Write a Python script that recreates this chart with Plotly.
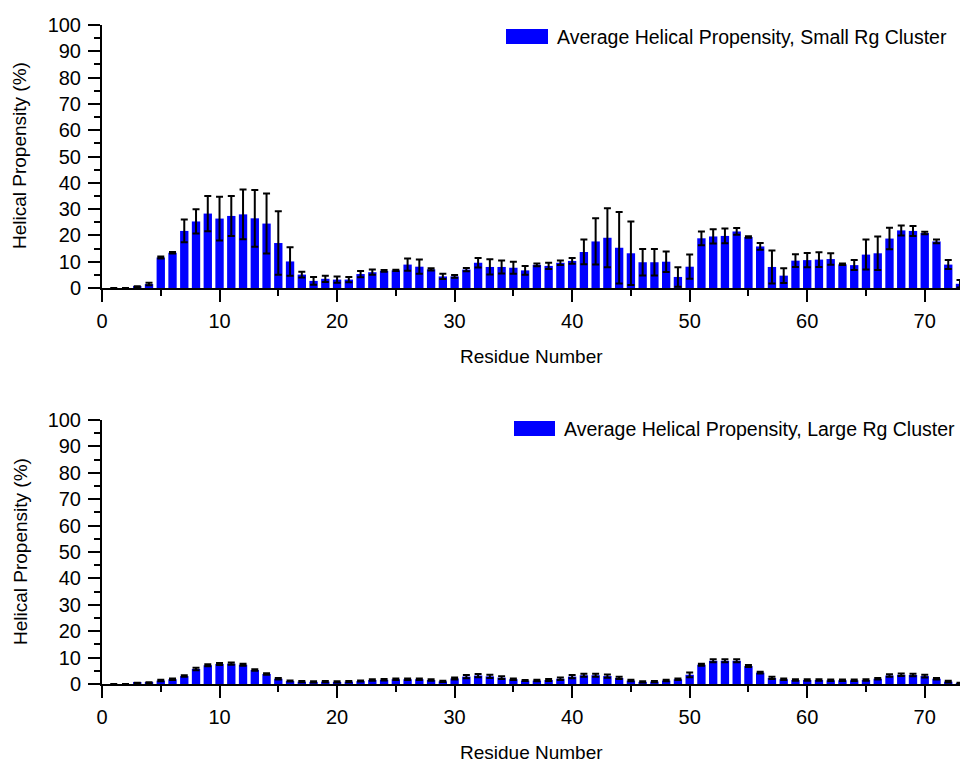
import plotly.graph_objects as go

residues = list(range(1, 74))

small_rg = [0, 0, 0.5, 1.5, 11.6, 13.4, 21.7, 25.3, 28.3, 26.4,
            27.4, 28.0, 26.5, 24.5, 17.1, 10.1, 5.1, 2.7, 3.5, 3.2,
            3.2, 5.3, 6.0, 6.5, 6.7, 8.9, 8.1, 7.1, 4.4, 4.4,
            7.0, 9.6, 8.0, 8.0, 7.7, 6.7, 8.8, 8.4, 9.6, 10.3,
            13.7, 17.7, 19.1, 15.3, 13.2, 9.8, 9.8, 10.0, 4.2, 8.1,
            18.9, 19.6, 19.8, 21.5, 19.4, 15.8, 8.0, 4.7, 10.4, 10.6,
            10.8, 11.0, 9.0, 8.7, 12.7, 13.2, 18.8, 21.9, 21.7, 20.9,
            17.7, 8.9, 1.6]
small_err = [None, None, 0.2, 0.5, 0.4, 0.3, 4.3, 4.6, 6.7, 8.3,
             7.6, 9.5, 10.8, 11.4, 12.1, 5.4, 1.1, 1.5, 1.2, 1.2,
             1.0, 1.2, 1.0, 0.3, 0.2, 2.3, 2.7, 0.4, 1.0, 0.5,
             0.6, 1.8, 2.9, 2.5, 2.3, 1.7, 0.5, 1.2, 0.9, 1.1,
             4.7, 8.8, 11.2, 13.6, 12.1, 5.0, 5.0, 3.9, 3.7, 4.6,
             2.6, 2.7, 2.8, 1.3, 0.3, 1.3, 6.3, 2.8, 2.4, 2.7,
             2.8, 2.2, 0.3, 1.9, 5.7, 6.4, 4.1, 1.9, 1.9, 0.5,
             0.7, 1.7, 1.4]

large_rg = [0, 0, 0.4, 0.5, 1.3, 1.8, 3.0, 5.7, 7.1, 7.6,
            7.7, 7.3, 5.3, 3.8, 2.0, 1.1, 0.9, 0.8, 0.9, 0.8,
            0.9, 1.1, 1.5, 1.6, 1.8, 1.8, 1.8, 1.5, 1.0, 2.1,
            2.8, 3.2, 2.9, 2.4, 1.8, 1.3, 1.3, 1.5, 2.0, 2.8,
            3.3, 3.3, 3.0, 2.3, 1.3, 0.8, 0.9, 1.3, 1.8, 3.5,
            7.3, 8.8, 8.8, 8.8, 6.8, 4.3, 2.3, 1.8, 1.5, 1.5,
            1.5, 1.4, 1.4, 1.4, 1.5, 2.0, 3.2, 3.5, 3.4, 3.0,
            2.0, 0.9, 0.3]
large_err = [None, None, 0.1, 0.2, 0.3, 0.3, 0.3, 0.5, 0.4, 0.4,
             0.4, 0.4, 0.3, 0.3, 0.3, 0.2, 0.2, 0.2, 0.2, 0.2,
             0.2, 0.2, 0.3, 0.3, 0.3, 0.3, 0.3, 0.3, 0.2, 0.4,
             0.6, 0.6, 0.6, 0.5, 0.3, 0.2, 0.3, 0.4, 0.5, 0.6,
             0.6, 0.6, 0.6, 0.4, 0.3, 0.2, 0.2, 0.3, 0.3, 0.9,
             0.4, 0.6, 0.6, 0.6, 0.4, 0.3, 0.4, 0.3, 0.3, 0.3,
             0.3, 0.3, 0.3, 0.3, 0.3, 0.3, 0.5, 0.5, 0.5, 0.5,
             0.3, 0.3, 0.2]

y_ticks = [0, 10, 20, 30, 40, 50, 60, 70, 80, 90, 100]
x_ticks = [0, 10, 20, 30, 40, 50, 60, 70]

name_small = "Average Helical Propensity, Small Rg Cluster"
name_large = "Average Helical Propensity, Large Rg Cluster"
x_title = "Residue Number"
y_title = "Helical Propensity (%)"

BLUE = "#0000ff"
FONT = "Liberation Sans, Arial, sans-serif"

fig = go.Figure()
err_style = dict(type="data", color="black", thickness=2, width=3.5, visible=True)
fig.add_trace(go.Bar(x=residues, y=small_rg, name=name_small,
                     marker=dict(color=BLUE, line=dict(width=0)),
                     error_y=dict(array=small_err, **err_style),
                     xaxis="x", yaxis="y", showlegend=False))
fig.add_trace(go.Bar(x=residues, y=large_rg, name=name_large,
                     marker=dict(color=BLUE, line=dict(width=0)),
                     error_y=dict(array=large_err, **err_style),
                     xaxis="x2", yaxis="y2", showlegend=False))

W, H = 960, 762
x0 = 102 / W
top_dom = [1 - 288 / H, 1 - 25 / H]
bot_dom = [1 - 684 / H, 1 - 420 / H]

def xax(anchor):
    return dict(domain=[x0, 1], range=[0, 73], anchor=anchor, automargin=False,
                tickvals=x_ticks, ticks="outside", ticklen=12, tickwidth=2,
                tickcolor="black", showline=True, linecolor="black", linewidth=2,
                showgrid=False, zeroline=False, ticklabelstandoff=2,
                tickfont=dict(size=20, color="black", family=FONT),
                minor=dict(dtick=5, tick0=0, ticks="outside", ticklen=6,
                           tickwidth=2, tickcolor="black", showgrid=False))

def yax(anchor, domain):
    return dict(domain=domain, range=[0, 100], anchor=anchor, automargin=False,
                tickvals=y_ticks, ticks="outside", ticklen=12, tickwidth=2,
                tickcolor="black", showline=True, linecolor="black", linewidth=2,
                showgrid=False, zeroline=False, ticklabelstandoff=3,
                tickfont=dict(size=20, color="black", family=FONT),
                minor=dict(dtick=5, tick0=0, ticks="outside", ticklen=6,
                           tickwidth=2, tickcolor="black", showgrid=False))

fig.update_layout(
    width=W, height=H,
    margin=dict(l=0, r=0, t=0, b=0, autoexpand=False),
    paper_bgcolor="white", plot_bgcolor="white",
    bargap=0.29,
    font=dict(family=FONT, color="black"),
    xaxis=xax("y"),
    yaxis=yax("x", top_dom),
    xaxis2=xax("y2"),
    yaxis2=yax("x2", bot_dom),
)

# axis titles
for ty_x, ty_y in [(1 - 356 / H, 1 - 156 / H), (1 - 752 / H, 1 - 552 / H)]:
    fig.add_annotation(xref="paper", yref="paper", x=531 / W, y=ty_x, text=x_title,
                       showarrow=False, xanchor="center", yanchor="middle",
                       font=dict(size=19, color="black", family=FONT))
    fig.add_annotation(xref="paper", yref="paper", x=20 / W, y=ty_y, text=y_title,
                       showarrow=False, xanchor="center", yanchor="middle", textangle=-90,
                       font=dict(size=19, color="black", family=FONT))

# legend boxes drawn like the original (wide blue swatch + label)
legends = [(506 / W, 548 / W, 1 - 44 / H, 1 - 29 / H, 555 / W, 1 - 37 / H, name_small),
           (514 / W, 555 / W, 1 - 436 / H, 1 - 421 / H, 562 / W, 1 - 429 / H, name_large)]
for lx0, lx1, ly0, ly1, tx, ty, txt in legends:
    fig.add_shape(type="rect", xref="paper", yref="paper", x0=lx0, x1=lx1, y0=ly0, y1=ly1,
                  fillcolor=BLUE, line=dict(width=0))
    fig.add_annotation(xref="paper", yref="paper", x=tx, y=ty, text=txt, showarrow=False,
                       xanchor="left", yanchor="middle",
                       font=dict(size=19.5, color="black", family=FONT))

fig.write_html("out.html")
